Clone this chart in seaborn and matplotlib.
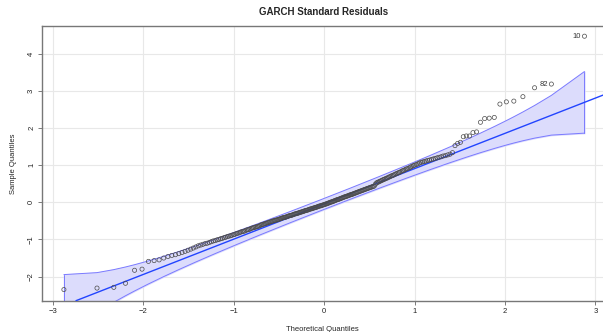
import statistics

import numpy as np
import pandas as pd
from matplotlib import pyplot as plt
import seaborn as sns

# sorted standardized residuals (n = 250)
resid_low = [-2.35, -2.31, -2.29, -2.18, -1.83, -1.80, -1.59, -1.57, -1.55, -1.50,
             -1.46, -1.43, -1.41, -1.38, -1.35, -1.32, -1.29, -1.26, -1.23, -1.20,
             -1.17, -1.15, -1.13, -1.11, -1.10, -1.08, -1.06, -1.04, -1.03, -1.01,
             -1.00, -0.98, -0.97, -0.95, -0.94, -0.92, -0.91, -0.90, -0.885, -0.87,
             -0.86, -0.84, -0.83, -0.82, -0.80, -0.79, -0.78, -0.77, -0.75, -0.74,
             -0.73, -0.72, -0.70, -0.69, -0.68, -0.67, -0.66, -0.65, -0.64, -0.63,
             -0.61, -0.60, -0.59, -0.58, -0.57, -0.56, -0.55, -0.54, -0.53, -0.52,
             -0.51, -0.50, -0.49, -0.485, -0.475, -0.47, -0.46, -0.45, -0.44, -0.43,
             -0.42, -0.41, -0.405, -0.40, -0.39, -0.38, -0.37, -0.36, -0.355, -0.35,
             -0.34, -0.33, -0.32, -0.31, -0.305, -0.30, -0.29, -0.28, -0.27, -0.265,
             -0.255, -0.25, -0.24, -0.23, -0.22, -0.215, -0.21, -0.20, -0.19, -0.18,
             -0.175, -0.17, -0.16, -0.15, -0.145, -0.135, -0.13, -0.12, -0.11, -0.10,
             -0.095, -0.09, -0.08, -0.07, -0.065]
resid_mid = [-0.055, -0.045, -0.04, -0.03, -0.02, -0.01, 0.00, 0.01, 0.015, 0.025,
             0.035, 0.045, 0.055, 0.065, 0.075, 0.08, 0.09, 0.10, 0.11, 0.12,
             0.13, 0.14, 0.15, 0.157, 0.165, 0.175, 0.185, 0.195, 0.205, 0.21,
             0.22, 0.23, 0.24, 0.25, 0.26, 0.27, 0.28, 0.29, 0.30, 0.31,
             0.32, 0.33, 0.34, 0.35, 0.36, 0.37, 0.38, 0.39, 0.40, 0.41,
             0.42, 0.43, 0.44, 0.49, 0.52, 0.54, 0.55, 0.565, 0.58, 0.59,
             0.61, 0.62, 0.635, 0.65, 0.66, 0.68, 0.69, 0.71, 0.72, 0.735,
             0.75, 0.77, 0.78, 0.80, 0.81, 0.83, 0.85, 0.86, 0.88, 0.90,
             0.91, 0.93, 0.95, 0.97, 0.99, 1.005, 1.02, 1.04, 1.06]
resid_high = [1.08, 1.09, 1.10, 1.115, 1.13, 1.14, 1.155, 1.17, 1.185, 1.20,
              1.215, 1.23, 1.25, 1.26, 1.28, 1.30, 1.34, 1.53, 1.59, 1.62,
              1.77, 1.79, 1.79, 1.88, 1.90, 2.16, 2.26, 2.27, 2.29, 2.65,
              2.71, 2.73, 2.85, 3.09, 3.19, 4.48]
residuals = resid_low + resid_mid + resid_high

# reference line
line_intercept = -0.04
line_slope = 0.951

# labelled observations (obs number, rank in sorted sample)
outlier_ids = ['82', '10']
outlier_ranks = [249, 250]

n = len(residuals)
nd = statistics.NormalDist()
probs = (np.arange(1, n + 1) - 0.5) / n
theo = np.array([nd.inv_cdf(p) for p in probs])
df = pd.DataFrame({'theoretical': theo, 'sample': residuals})

# pointwise 95% envelope around the reference line
dens = np.array([nd.pdf(z) for z in theo])
se = (line_slope / dens) * np.sqrt(probs * (1 - probs) / n)
fit = line_intercept + line_slope * theo
upper = fit + 1.96 * se
lower = fit - 1.96 * se

sns.set_style('white')
plt.rcParams['font.family'] = ['Liberation Sans', 'DejaVu Sans']

fig = plt.figure(figsize=(6.03, 3.32), dpi=100)
ax = fig.add_axes([0.0697, 0.0943, 0.9303, 0.8274])

ax.fill_between(theo, lower, upper, color='#dcdcfc', zorder=1)
ax.plot(theo, upper, color='#7a7aff', lw=0.7, zorder=2)
ax.plot(theo, lower, color='#7a7aff', lw=0.7, zorder=2)
ax.plot([theo[0], theo[0]], [lower[0], upper[0]], color='#7a7aff', lw=0.7, zorder=2)
ax.plot([theo[-1], theo[-1]], [lower[-1], upper[-1]], color='#7a7aff', lw=0.7, zorder=2)
ax.axline((0, line_intercept), slope=line_slope, color='#2244ff', lw=1.0, zorder=3)

sns.scatterplot(data=df, x='theoretical', y='sample', ax=ax,
                marker='o', s=9, facecolor='none', edgecolor='#4a4a4a',
                linewidth=0.5, zorder=4)

for lab, r in zip(outlier_ids, outlier_ranks):
    ax.annotate(lab, (theo[r - 1], residuals[r - 1]), xytext=(-2.5, 0),
                textcoords='offset points', ha='right', va='center',
                fontsize=5.5, color='#333333')

ax.set_xlim(-3.12, 3.083)
ax.set_ylim(-2.65, 4.755)
ax.set_xticks([-3, -2, -1, 0, 1, 2, 3])
ax.set_yticks([-2, -1, 0, 1, 2, 3, 4])
ax.grid(True, color='#e8e8e8', lw=0.8)
ax.set_axisbelow(True)
ax.tick_params(axis='both', which='both', length=3, width=0.6, color='#666666',
               labelsize=5.5, labelcolor='#222222', pad=2, direction='out',
               bottom=True, left=True)
for lbl in ax.get_yticklabels():
    lbl.set_rotation(90)
    lbl.set_va('center')
for side in ['left', 'bottom', 'top']:
    ax.spines[side].set_color('#777777')
    ax.spines[side].set_linewidth(1.0)
ax.spines['right'].set_visible(False)

ax.set_xlabel('Theoretical Quantiles', fontsize=5.5, labelpad=8)
ax.set_ylabel('Sample Quantiles', fontsize=5.5, labelpad=8)
fig.text(0.537, 0.965, 'GARCH Standard Residuals', ha='center', va='center',
         fontsize=7, fontweight='bold')

fig.savefig('out.png', dpi=100)
